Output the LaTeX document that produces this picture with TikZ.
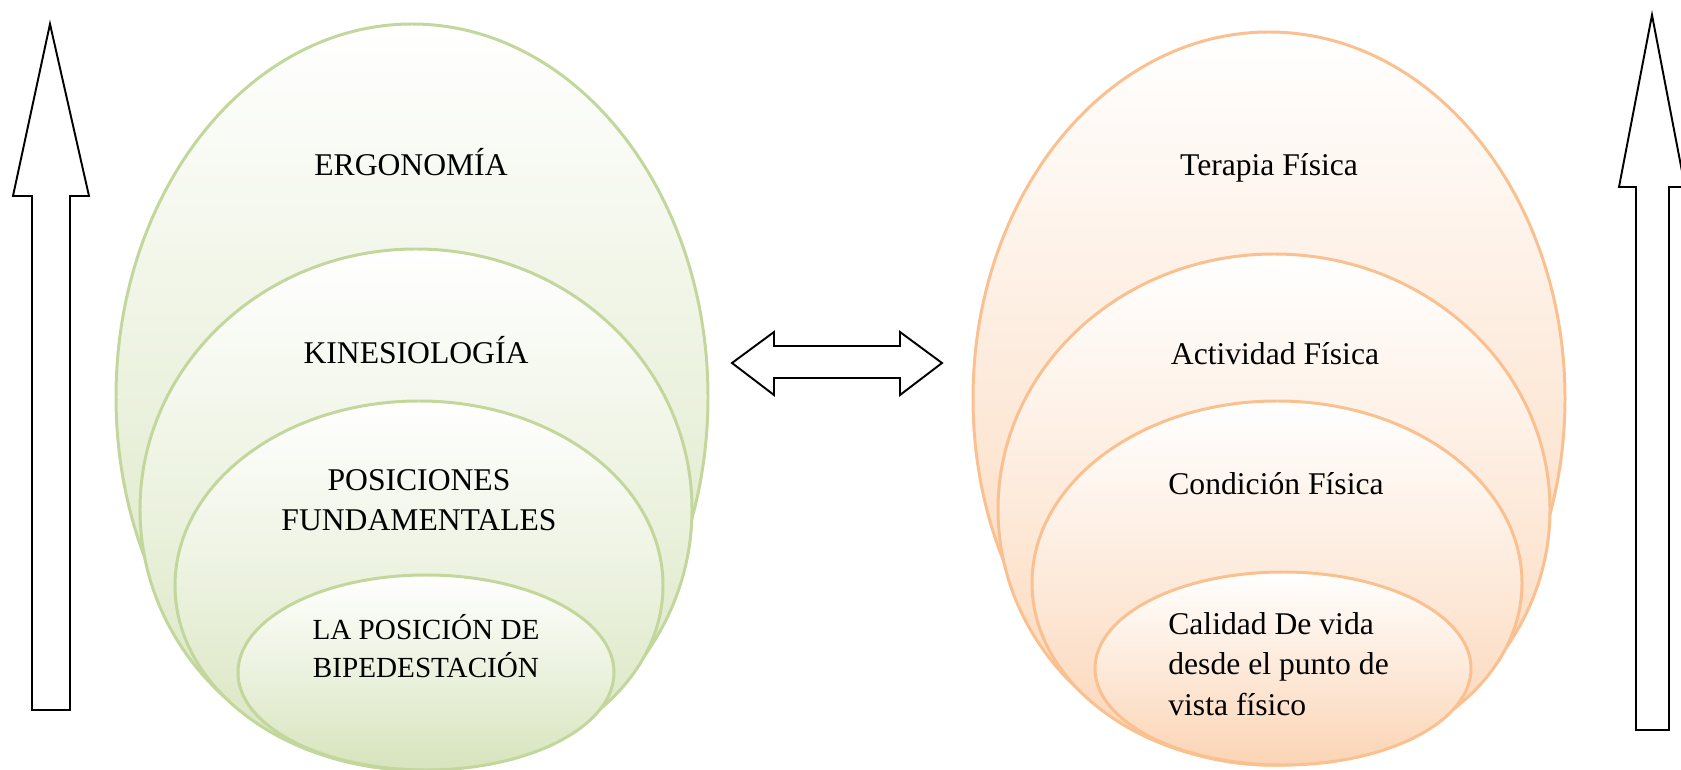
\documentclass[tikz,border=0pt]{standalone}
\usepackage{fontspec}
\setmainfont{Liberation Serif}
\usetikzlibrary{positioning}

\definecolor{lineGreen}{HTML}{C3D69B}
\definecolor{fillGreen}{HTML}{D7E4BD}
\definecolor{lineOrange}{HTML}{FAC090}
\definecolor{fillOrange}{HTML}{FBD4B4}

\begin{document}
\begin{tikzpicture}[
      x=0.02cm, y=-0.02cm,
      ring_green/.style={draw=lineGreen, line width=1.7pt, top color=white, bottom color=fillGreen},
      ring_orange/.style={draw=lineOrange, line width=1.7pt, top color=white, bottom color=fillOrange},
      label_text/.style={font=\fontsize{18}{23}\selectfont, align=center, inner sep=0pt},
      block_arrow/.style={draw, line width=1.1pt, fill=white, line join=miter}
    ]
    \useasboundingbox (0,0) rectangle (1681,770);

    % left rings
    \draw[ring_green] (412,397) ellipse [x radius=296, y radius=373];
    \draw[ring_green] (416,509.5) ellipse [x radius=276, y radius=260.5];
    \draw[ring_green] (419,585.5) ellipse [x radius=244, y radius=184.5];
    \draw[ring_green] (426,672.5) ellipse [x radius=188, y radius=97.5];

    % right rings
    \draw[ring_orange] (1269,398.5) ellipse [x radius=296, y radius=366.5];
    \draw[ring_orange] (1274,509.5) ellipse [x radius=276, y radius=255.5];
    \draw[ring_orange] (1277,583) ellipse [x radius=245, y radius=182];
    \draw[ring_orange] (1283,668.5) ellipse [x radius=188, y radius=96.5];

    \node[label_text] (ergo) at (411,162) {ERGONOMÍA};
    \node[label_text] (kine) at (416,350) {KINESIOLOGÍA};
    \node[label_text] (posic) at (419,500) {POSICIONES\\FUNDAMENTALES};
    \node[label_text, font=\fontsize{16.6}{22}\selectfont] (biped) at (426,646) {LA POSICIÓN DE\\BIPEDESTACIÓN};

    \node[label_text] (terapia) at (1269,168) {Terapia Física};
    \node[label_text] (activ) at (1275,354) {Actividad Física};
    \node[label_text] (condic) at (1276,484) {Condición Física};
    \node[label_text, align=left, anchor=west] (calidad) at (1168,664) {Calidad De vida\\desde el punto de\\vista físico};

    % block arrows
    \draw[block_arrow] (50,24) -- (89,196) -- (70,196) -- (70,710) -- (32,710) -- (32,196) -- (13,196) -- cycle;
    \draw[block_arrow] (1652,15) -- (1685,187) -- (1669,187) -- (1669,730) -- (1636,730) -- (1636,187) -- (1619,187) -- cycle;
    \draw[block_arrow] (732,363) -- (774,332) -- (774,346) -- (900,346) -- (900,332) -- (942,363)
      -- (900,395) -- (900,378) -- (774,378) -- (774,395) -- cycle;
  \end{tikzpicture}
\end{document}
